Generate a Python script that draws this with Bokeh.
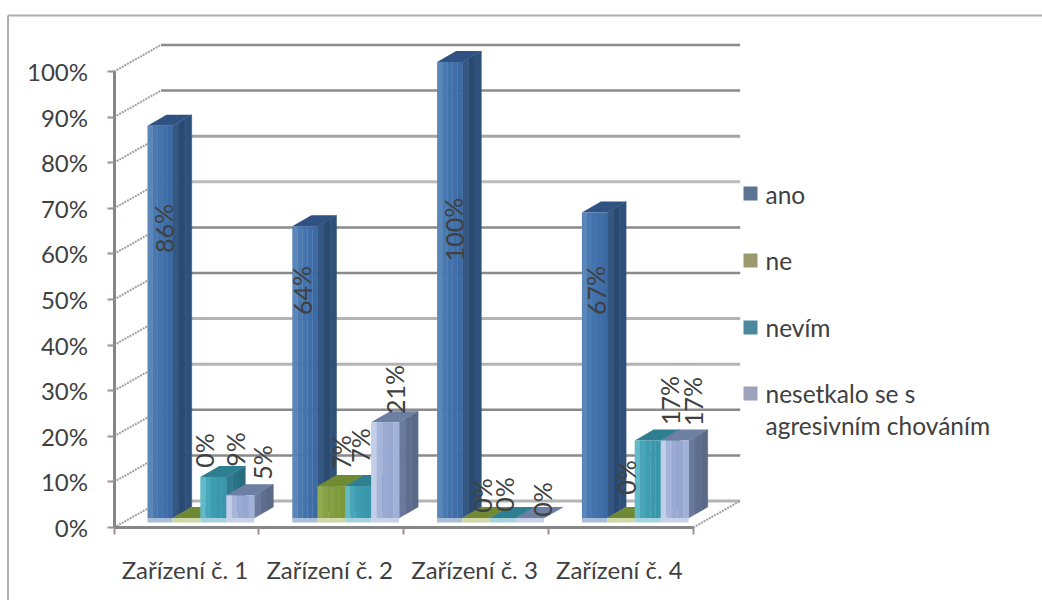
from bokeh.embed import file_html
from bokeh.resources import INLINE
from bokeh.plotting import figure
from bokeh.models import LinearAxis, FixedTicker, Range1d, Label
from bokeh.core.properties import value

# ---- data ----
devices = ["Zařízení č. 1", "Zařízení č. 2", "Zařízení č. 3", "Zařízení č. 4"]
answers = ["ano", "ne", "nevím", "nesetkalo se s\nagresivním chováním"]
ano = [86, 64, 100, 67]
ne = [0, 7, 0, 0]
nevim = [9, 7, 0, 17]
nesetkalo = [5, 21, 0, 17]
percent_ticks = list(range(0, 101, 10))

# ---- canvas geometry: pixels per unit on each scale ----
W, H = 1042, 600
ORIGIN_X, ORIGIN_Y = 113.5, 527
PX_GROUP = 144.8
PX_PCT = 4.56


def dx(px):
    return px / PX_GROUP


def dy(px):
    return px / PX_PCT


def X(px):
    return (px - ORIGIN_X) / PX_GROUP


def Y(py):
    return (ORIGIN_Y - py) / PX_PCT


p = figure(
    width=W, height=H, output_backend="svg", toolbar_location=None,
    x_axis_type=None, y_axis_type=None, tools="",
    x_range=Range1d(X(0), X(W)), y_range=Range1d(Y(H), Y(0)),
    min_border=0, outline_line_color=None,
)
p.grid.visible = False

FONT = "Lato"
TEXT = "#404040"

# chart frame: top and left edges only, running off the page
p.line([X(7.5), X(W)], [Y(15), Y(15)], line_color="#b3a9a9", line_width=2)
p.line([X(7.5), X(7.5)], [Y(15), Y(H)], line_color="#b3a9a9", line_width=2)

# 3-D box: wall depth
WALL_X, WALL_Y = dx(47), dy(26.5)
wall_colors = ["#b4b4b4", "#8a8a8a", "#8a8a8a", "#b4b4b4", "#b4b4b4", "#8a8a8a",
               "#8a8a8a", "#bcbcbc", "#a5a5a5", "#8a8a8a", "#8a8a8a"]
for t, c in zip(percent_ticks, wall_colors):
    p.line([WALL_X, 4 + WALL_X], [t + WALL_Y, t + WALL_Y], line_color=c,
           line_width=3 if c != "#8a8a8a" else 2.5)
    p.line([0, WALL_X], [t, t + WALL_Y], line_color="#a0a0a0", line_width=2, line_dash="2 1")
p.line([4, 4 + WALL_X], [0, WALL_Y], line_color="#a0a0a0", line_width=2, line_dash="2 1")

# ---- bars ----
BAR_WIDTHS = [dx(25.2), dx(27.6), dx(26), dx(28)]
GROUP_PAD = dx(33.5)
BASE = dy(9.5)
DEPTH_X, DEPTH_Y = dx(19), dy(11)
series = [ano, ne, nevim, nesetkalo]
front_shades = [
    ["#5a86ba", "#4a79b1", "#4373ac", "#3f6ea8", "#3c6aa2"],
    ["#93ab50", "#88a245", "#84a040", "#7f9b3e", "#7c983b"],
    ["#62bac8", "#47a6b9", "#3f9db2", "#3b99ae", "#3a97ab"],
    ["#c3cfe9", "#a6b5da", "#9aaad3", "#97a7d0", "#a2b1d8"],
]
side_shades = [
    ["#345782", "#2a4a72", "#2e5079"],
    ["#64842f", "#5c7a2c", "#567228"],
    ["#2f7a8e", "#2a7286", "#286c80"],
    ["#6a7a9c", "#5f6e8f", "#5a6986"],
]
top_colors = ["#2f5282", "#6f8a33", "#2f7f92", "#6d7fa3"]
glow_colors = ["#a9bdd9", "#d0d8a8", "#a5d2dc", "#c7d1e8"]

for g in range(len(devices)):
    x0 = g + GROUP_PAD
    for s, vals in enumerate(series):
        v = vals[g]
        x1 = x0 + BAR_WIDTHS[s]
        top = BASE + v
        # pale strip on the floor in front of the bar
        p.quad(left=x0, right=x1, bottom=BASE - dy(4.5), top=BASE,
               fill_color=glow_colors[s], line_color=None)
        # right side, split into bands along the depth
        shades = side_shades[s]
        for i, c in enumerate(shades):
            f0, f1 = i / len(shades), (i + 1) / len(shades)
            p.patch([x1 + f0 * DEPTH_X, x1 + f1 * DEPTH_X, x1 + f1 * DEPTH_X, x1 + f0 * DEPTH_X],
                    [BASE + f0 * DEPTH_Y, BASE + f1 * DEPTH_Y, top + f1 * DEPTH_Y, top + f0 * DEPTH_Y],
                    fill_color=c, line_color=c, line_width=0.5)
        # lid
        p.patch([x0, x1, x1 + DEPTH_X, x0 + DEPTH_X],
                [top, top, top + DEPTH_Y, top + DEPTH_Y],
                fill_color=top_colors[s], line_color=None)
        # front, in narrow vertical bands
        shades = front_shades[s]
        band = BAR_WIDTHS[s] / len(shades)
        for i, c in enumerate(shades):
            p.quad(left=x0 + i * band, right=x0 + (i + 1) * band + dx(0.3),
                   bottom=BASE, top=top, fill_color=c, line_color=None)
        x0 = x1

# ---- value labels, rotated, centred on these canvas points ----
label_px = [
    [(163, 228), (203, 450), (234, 449), (261, 462)],
    [(301, 290), (340, 452), (359, 445), (394, 389)],
    [(453, 229), (481, 495), (503, 494), (541, 499)],
    [(595, 290), (625, 477), (669, 400), (692, 401)],
]
for g in range(len(devices)):
    for s, vals in enumerate(series):
        cx, cy = label_px[g][s]
        p.text(x=[X(cx)], y=[Y(cy)], text=[f"{vals[g]}%"], angle=1.5708,
               text_font=value(FONT), text_font_size="25px", text_color=TEXT,
               text_align="center", text_baseline="middle")

# ---- axes ----
y_axis = LinearAxis(fixed_location=0, ticker=FixedTicker(ticks=percent_ticks), bounds=(0, 100))
y_axis.major_label_overrides = {t: f"{t}%" for t in percent_ticks}
y_axis.axis_line_color = "#868686"
y_axis.axis_line_width = 3
y_axis.major_tick_line_color = "#a08f8c"
y_axis.major_tick_line_width = 2
y_axis.major_tick_out = 7
y_axis.major_tick_in = 0
y_axis.minor_tick_line_color = None
y_axis.major_label_text_font = FONT
y_axis.major_label_text_font_size = "24px"
y_axis.major_label_text_color = TEXT
y_axis.major_label_standoff = 19
p.add_layout(y_axis, "left")

# device names sit mid-group as major ticks; group boundaries carry the tick marks
centres = [g + 0.49 for g in range(len(devices))]
x_axis = LinearAxis(fixed_location=0, bounds=(0, 4),
                    ticker=FixedTicker(ticks=centres, minor_ticks=[0, 1, 2, 3, 4]))
x_axis.major_label_overrides = dict(zip(centres, devices))
x_axis.axis_line_color = "#868686"
x_axis.axis_line_width = 3
x_axis.major_tick_line_color = None
x_axis.minor_tick_line_color = "#a08f8c"
x_axis.minor_tick_line_width = 2
x_axis.minor_tick_out = 7
x_axis.minor_tick_in = 0
x_axis.major_label_text_font = FONT
x_axis.major_label_text_font_size = "24px"
x_axis.major_label_text_color = TEXT
x_axis.major_label_standoff = 20
p.add_layout(x_axis, "below")

# ---- legend ----
swatches = ["#5d7594", "#9a9a6c", "#4e889e", "#9da3bd"]
swatch_mid = [193, 260, 327, 393]
text_mid = [194, 260, 327, 393]
for name, col, sy, ty in zip(answers, swatches, swatch_mid, text_mid):
    p.quad(left=X(743), right=X(757), bottom=Y(sy + 7), top=Y(sy - 7),
           fill_color=col, line_color=None)
    for k, line in enumerate(name.split("\n")):
        p.add_layout(Label(x=765, y=H - (ty + k * 32), x_units="screen", y_units="screen",
                           text=line, text_font=FONT, text_font_size="24.5px", text_color=TEXT,
                           text_baseline="middle"))

open("out.html", "w").write(file_html(p, INLINE))
